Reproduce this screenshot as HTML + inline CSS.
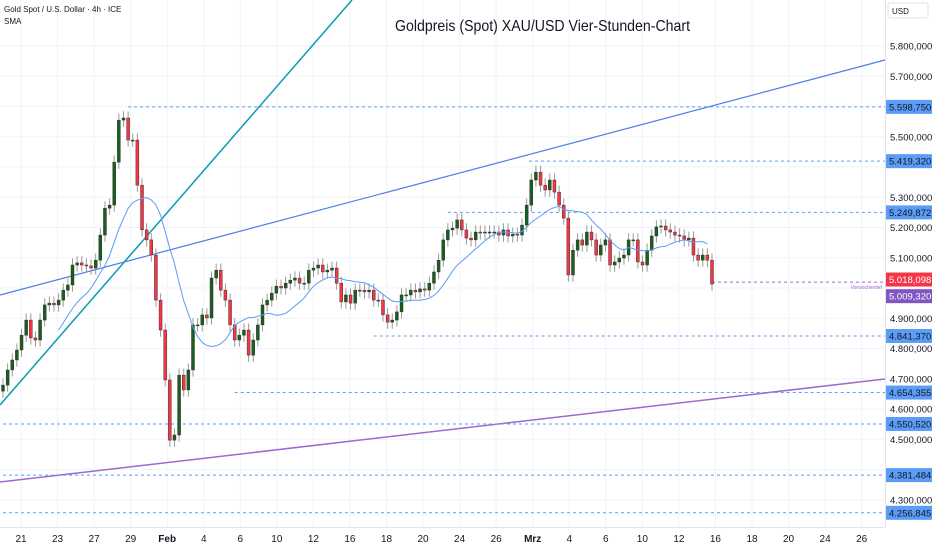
<!DOCTYPE html>
<html><head><meta charset="utf-8">
<style>
html,body{margin:0;padding:0;background:#fff;}
svg{display:block;font-family:"Liberation Sans",sans-serif;}
</style></head>
<body>
<svg id="chart" width="932" height="550" viewBox="0 0 932 550" xmlns="http://www.w3.org/2000/svg">
<rect width="932" height="550" fill="#fff"/>
<g id="grid"></g>
<g id="trendlines"></g>
<g id="levels"></g>
<g id="candles"></g>
<g id="sma"></g>
<g id="axes"></g>
<text x="4" y="12" font-size="8" fill="#131722">Gold Spot / U.S. Dollar · 4h · ICE</text>
<text x="4" y="24" font-size="8" fill="#131722">SMA</text>
<text x="395" y="31" font-size="16" textLength="295" lengthAdjust="spacingAndGlyphs" fill="#131722">Goldpreis (Spot) XAU/USD Vier-Stunden-Chart</text>
<rect x="888" y="3" width="40" height="15" rx="2" fill="#fff" stroke="#e0e3eb"/>
<text x="892" y="14" font-size="8" fill="#131722">USD</text>
</svg>
<script>
const closes=[4679,4729,4762,4795,4844,4894,4835,4828,4894,4944,4950,4944,4960,4993,5010,5076,5083,5076,5073,5066,5092,5175,5264,5274,5416,5555,5562,5489,5489,5340,5192,5159,5109,4960,4861,4696,4497,4514,4712,4663,4729,4878,4878,4911,4901,5033,5059,4993,4960,4878,4828,4844,4861,4778,4828,4878,4944,4960,4983,5006,5000,5016,5026,5033,5016,5016,5059,5066,5076,5053,5059,5066,5016,4954,4977,4950,4993,4993,4987,4993,4960,4960,4911,4887,4894,4921,4977,4977,4993,4987,4997,4993,5016,5053,5092,5159,5192,5198,5225,5192,5165,5159,5185,5182,5185,5185,5185,5175,5192,5172,5178,5175,5208,5274,5357,5383,5340,5324,5357,5317,5274,5231,5043,5125,5159,5142,5185,5159,5109,5142,5159,5076,5086,5099,5109,5159,5159,5086,5076,5125,5172,5202,5205,5192,5185,5175,5172,5159,5165,5109,5092,5109,5092,5013];
const priceTicks=[5800,5700,5500,5300,5200,5100,4900,4800,4700,4600,4500,4300];
const priceTickLabels=["5.800,000","5.700,000","5.500,000","5.300,000","5.200,000","5.100,000","4.900,000","4.800,000","4.700,000","4.600,000","4.500,000","4.300,000"];
const gridPrices=[5800,5700,5600,5500,5400,5300,5200,5100,5000,4900,4800,4700,4600,4500,4400,4300];
const dateLabels=["21","23","27","29","Feb","4","6","10","12","16","18","20","24","26","Mrz","4","6","10","12","16","18","20","24","26"];
const levelPrices=[5598.75,5419.32,5249.872,4841.37,4654.355,4550.52,4381.484,4256.845];
const levelLabels=["5.598,750","5.419,320","5.249,872","4.841,370","4.654,355","4.550,520","4.381,484","4.256,845"];
const levelStartIdx=[27,113.5,96,80,50,0,0,0];
const lastPrice=5018.098, lastLabel="5.018,098";
const prevWeekLow=5009.32, prevWeekLabel="5.009,320";

const NS="http://www.w3.org/2000/svg";
const PLOT_R=885, AXIS_Y=527;
function y(p){return 46+(5800-p)*0.3025;}
function xi(i){return 3+i*(709/(closes.length-1));}
function xd(i){return 21+i*36.55;}
function mk(tag,attrs,parent){const e=document.createElementNS(NS,tag);for(const k in attrs)e.setAttribute(k,attrs[k]);parent.appendChild(e);return e;}

const grid=document.getElementById('grid');
gridPrices.forEach(p=>{
  const l=mk('line',{x1:0,x2:PLOT_R,y1:y(p),y2:y(p),stroke:'#f0f3fa','stroke-width':1},grid);
  
  
});
dateLabels.forEach((d,i)=>{
  const l=mk('line',{x1:xd(i),x2:xd(i),y1:0,y2:AXIS_Y,stroke:'#f0f3fa','stroke-width':1},grid);
  
  
});

const tl=document.getElementById('trendlines');
let t=mk('line',{x1:0,y1:405,x2:352,y2:0,stroke:'#089bb0','stroke-width':1.5},tl);


t=mk('line',{x1:0,y1:295,x2:PLOT_R,y2:60,stroke:'#4a7ee8','stroke-width':1.2},tl);


t=mk('line',{x1:0,y1:482,x2:PLOT_R,y2:379,stroke:'#9c6ad0','stroke-width':1.5},tl);



const lv=document.getElementById('levels');
const axes=document.getElementById('axes');
mk('rect',{x:PLOT_R,y:0,width:47,height:550,fill:'#fff'},axes);
mk('line',{x1:PLOT_R+0.5,x2:PLOT_R+0.5,y1:0,y2:AXIS_Y,stroke:'#e0e3eb'},axes);
mk('line',{x1:0,x2:PLOT_R,y1:AXIS_Y+0.5,y2:AXIS_Y+0.5,stroke:'#e0e3eb'},axes);
priceTicks.forEach((p,i)=>{
  const tx=mk('text',{x:890,y:y(p)+3.5,'font-size':9.5,fill:'#131722'},axes);
  tx.textContent=priceTickLabels[i];
  
  
});
dateLabels.forEach((d,i)=>{
  const tx=mk('text',{x:xd(i),y:542,'font-size':10,'text-anchor':'middle',fill:'#131722','font-weight':(d==='Feb'||d==='Mrz')?'bold':'normal'},axes);
  tx.textContent=d;
  
  
});
levelPrices.forEach((p,i)=>{
  const l=mk('line',{x1:xi(levelStartIdx[i]),x2:PLOT_R,y1:y(p),y2:y(p),stroke:'#5b9cf6','stroke-width':1,'stroke-dasharray':'3,3'},lv);
  
  
  const r=mk('rect',{x:PLOT_R+1,y:y(p)-7,width:46,height:14,fill:'#5b9cf6'},axes);
  
  
  const tx=mk('text',{x:889,y:y(p)+3.5,'font-size':9.5,fill:'#131722'},axes);
  tx.textContent=levelLabels[i];
});
let pw=mk('line',{x1:xi(closes.length-1),x2:PLOT_R,y1:y(prevWeekLow)-3,y2:y(prevWeekLow)-3,stroke:'#9c6ad0','stroke-width':1,'stroke-dasharray':'3,3'},lv);


let pwt=mk('text',{x:882,y:y(prevWeekLow)+4,'font-size':5,'text-anchor':'end',fill:'#9c6ad0'},lv);
pwt.textContent='Vorwochentief';


let lr=mk('rect',{x:PLOT_R+1,y:y(lastPrice)-10,width:46,height:14,fill:'#f23645'},axes);


let lt=mk('text',{x:889,y:y(lastPrice)+0.5,'font-size':9.5,fill:'#fff'},axes);
lt.textContent=lastLabel;
let pr=mk('rect',{x:PLOT_R+1,y:y(prevWeekLow)+4,width:46,height:14,fill:'#7e57c2'},axes);


let pt=mk('text',{x:889,y:y(prevWeekLow)+14.5,'font-size':9.5,fill:'#fff'},axes);
pt.textContent=prevWeekLabel;

const cg=document.getElementById('candles');
const cw=3;
closes.forEach((c,i)=>{
  const o=i===0?c-20:closes[i-1];
  const up=c>=o;
  const hi=Math.max(o,c)+22, lo=Math.min(o,c)-22;
  const x=xi(i);
  const w=mk('line',{x1:x,x2:x,y1:y(hi),y2:y(lo),stroke:'#999','stroke-width':1},cg);
  
  
  const top=y(Math.max(o,c)), h=Math.max(1,Math.abs(y(o)-y(c)));
  const b=mk('rect',{x:x-cw/2,y:top,width:cw,height:h,fill:up?'#1b5e20':'#f23645',stroke:'#222','stroke-width':0.4},cg);
  
  
});

const per=14;let d='';
closes.forEach((c,i)=>{
  if(i<per-1)return;
  let s=0;for(let k=i-per+1;k<=i;k++)s+=closes[k];
  const v=s/per;
  d+=(d?'L':'M')+xi(i-1).toFixed(1)+','+y(v).toFixed(1);
});
const sp=mk('path',{d:d,fill:'none',stroke:'#5b9cf6','stroke-width':1},document.getElementById('sma'));


</script>
</body></html>
